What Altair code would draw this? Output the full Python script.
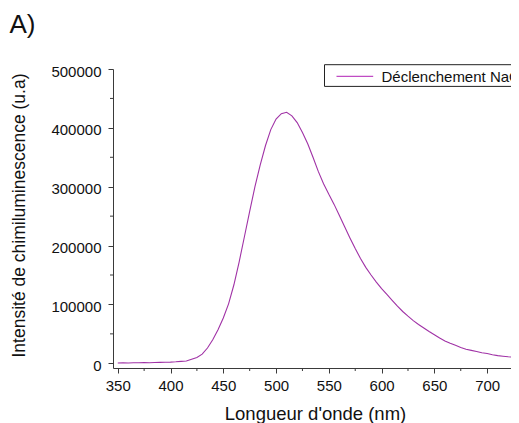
import altair as alt
import pandas as pd

# Data
wavelength_nm = [350, 355, 360, 365, 370, 375, 380, 385, 390, 395,
                 400, 405, 410, 415, 420, 425, 430, 435, 440, 445,
                 450, 455, 460, 465, 470, 475, 480, 485, 490, 495,
                 500, 505, 510, 515, 520, 525, 530, 535, 540, 545,
                 550, 555, 560, 565, 570, 575, 580, 585, 590, 595,
                 600, 605, 610, 615, 620, 625, 630, 635, 640, 645,
                 650, 655, 660, 665, 670, 675, 680, 685, 690, 695,
                 700, 705, 710, 715, 720, 725, 730]
intensity = [400, 700, 500, 900, 800, 1100, 1000, 1400, 1600, 1800,
             2000, 2500, 3300, 4000, 7000, 10000, 15500, 26000, 40000, 57000,
             77000, 101000, 133000, 172000, 215000, 258000, 300000, 337000, 370000, 397000,
             415000, 424000, 426500, 420500, 409000, 392000, 373000, 350000, 326000, 305000,
             287000, 270000, 251000, 232000, 213000, 195000, 178000, 163000, 150000, 138000,
             127000, 117000, 107000, 97000, 88000, 80000, 72500, 66000, 60000, 54000,
             48500, 43000, 38000, 34000, 30500, 27000, 24000, 22000, 20000, 18000,
             16500, 14500, 13000, 12000, 11000, 10200, 9500]

x_major = [350, 400, 450, 500, 550, 600, 650, 700]
x_minor = [375, 425, 475, 525, 575, 625, 675, 725]
y_major = [0, 100000, 200000, 300000, 400000, 500000]
y_minor = [50000, 150000, 250000, 350000, 450000]

series_name = "Déclenchement NaOH"
panel_label = "A)"
x_title = "Longueur d'onde (nm)"
y_title = "Intensité de chimiluminescence (u.a)"

FONT = "Liberation Sans"
AXIS_COLOR = "#3a3a3a"
LINE_COLOR = "#a032a6"
W, H = 398, 299
X0, X1 = 345.5, 722.6

df = pd.DataFrame({"wl": wavelength_nm, "v": intensity})
x_scale = alt.Scale(domain=[X0, X1], nice=False, zero=False)
y_scale = alt.Scale(domain=[-8000, 500000], nice=False, zero=False)

line = alt.Chart(df).mark_line(color=LINE_COLOR, strokeWidth=1.1, clip=True).encode(
    x=alt.X("wl:Q", scale=x_scale,
            axis=alt.Axis(values=x_major, title=x_title, format="d",
                          titleX=202, titleY=36, titleFontSize=18.5,
                          titleFontWeight="normal", titleFont=FONT, titleColor="#111",
                          labelFont=FONT, labelFontSize=15, labelColor="#111",
                          labelPadding=5, tickSize=5, tickColor=AXIS_COLOR,
                          domainColor=AXIS_COLOR, grid=False, labelFlush=False)),
    y=alt.Y("v:Q", scale=y_scale,
            axis=alt.Axis(values=y_major, title=y_title, format="d",
                          titleX=-85, titleY=146, titleFontSize=17.5,
                          titleFontWeight="normal", titleFont=FONT, titleColor="#111",
                          labelFont=FONT, labelFontSize=15, labelColor="#111",
                          labelPadding=7, labelOffset=2, tickSize=5,
                          tickColor=AXIS_COLOR, domainColor=AXIS_COLOR,
                          grid=False, labelFlush=False)),
)

ymin_df = pd.DataFrame({"v": y_minor})
y_minor_ticks = alt.Chart(ymin_df).mark_rule(color=AXIS_COLOR, strokeWidth=1).encode(
    y=alt.Y("v:Q", scale=y_scale), x=alt.value(-3), x2=alt.value(0))

xmin_df = pd.DataFrame({"wl": [v for v in x_minor if v <= X1]})
x_minor_ticks = alt.Chart(xmin_df).mark_rule(color=AXIS_COLOR, strokeWidth=1).encode(
    x=alt.X("wl:Q", scale=x_scale), y=alt.value(H), y2=alt.value(H + 3))

one = pd.DataFrame({"t": [0]})
LX = -8
legend_box = alt.Chart(one).mark_rect(fill="white", stroke="#222", strokeWidth=1).encode(
    x=alt.value(219.5 + LX), x2=alt.value(520), y=alt.value(-4.3), y2=alt.value(17.4))
legend_line = alt.Chart(one).mark_rule(color="#c04cc4", strokeWidth=1.2).encode(
    x=alt.value(231.5 + LX), x2=alt.value(268.2 + LX), y=alt.value(7.4))
legend_text = alt.Chart(pd.DataFrame({"t": [series_name]})).mark_text(
    align="left", baseline="middle", font=FONT, fontSize=15, color="#111").encode(
    x=alt.value(276.5 + LX), y=alt.value(7.6), text="t:N")

label_a = alt.Chart(pd.DataFrame({"t": [panel_label]})).mark_text(
    align="left", baseline="alphabetic", font=FONT, fontSize=26, color="#111").encode(
    x=alt.value(-103.5), y=alt.value(-36.3), text="t:N")

chart = alt.layer(line, y_minor_ticks, x_minor_ticks, legend_box, legend_line,
                  legend_text, label_a).properties(
    width=W, height=H,
    autosize=alt.AutoSizeParams(type="none"),
    padding={"left": 105, "top": 61, "right": 0, "bottom": 60},
    background="white",
).configure_view(stroke=None)

chart.save("out.html", embed_options={"renderer": "svg", "actions": False})
